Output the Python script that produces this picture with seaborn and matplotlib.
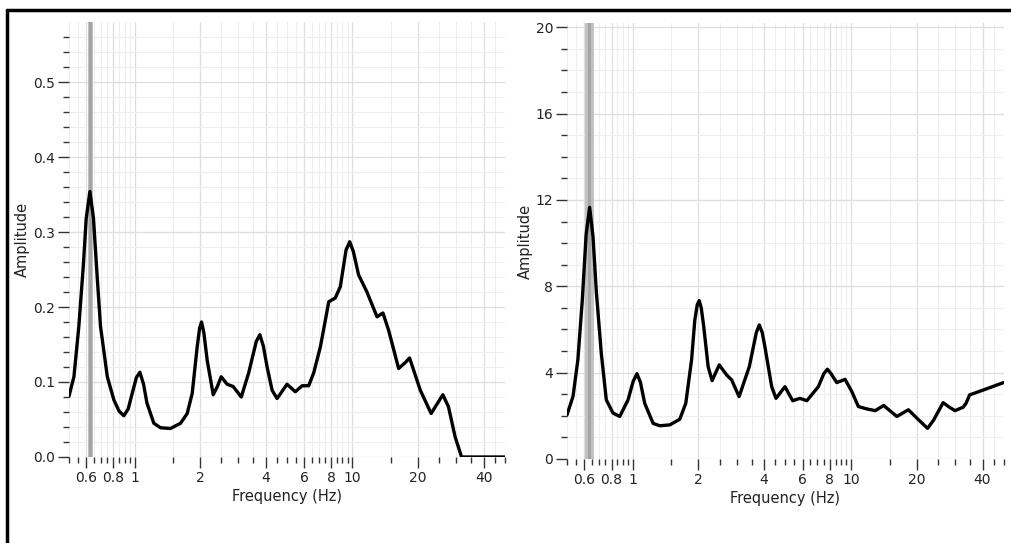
import numpy as np
import pandas as pd
import matplotlib
matplotlib.use('Agg')
import matplotlib.pyplot as plt
from matplotlib.lines import Line2D
from matplotlib.ticker import FixedLocator, NullFormatter
import seaborn as sns

# left spectrum
freq_left = [0.5, 0.527, 0.555, 0.582, 0.6, 0.624, 0.648, 0.674, 0.698, 0.75, 0.804, 0.85,
             0.893, 0.935, 0.976, 1.02, 1.058, 1.10, 1.14, 1.226, 1.316, 1.462, 1.626, 1.745,
             1.84, 1.939, 1.99, 2.03, 2.08, 2.155, 2.297, 2.40, 2.498, 2.66, 2.835, 3.09,
             3.34, 3.62, 3.76, 3.90, 4.06, 4.28, 4.51, 5.01, 5.47, 5.88, 6.30, 6.64, 7.13,
             7.79, 8.34, 8.80, 9.35, 9.72, 10.1, 10.67, 11.66, 12.97, 13.81, 14.66, 16.3,
             17.5, 18.3, 20.5, 22.98, 26.0, 27.6, 29.6, 31.7, 40.0, 50.0]
amp_left = [0.081, 0.107, 0.174, 0.255, 0.318, 0.354, 0.318, 0.240, 0.174, 0.107, 0.076, 0.061,
            0.055, 0.064, 0.085, 0.106, 0.113, 0.097, 0.072, 0.045, 0.039, 0.038, 0.045, 0.058,
            0.085, 0.147, 0.172, 0.180, 0.166, 0.129, 0.083, 0.094, 0.107, 0.097, 0.094, 0.080,
            0.112, 0.154, 0.163, 0.148, 0.120, 0.089, 0.078, 0.097, 0.087, 0.095, 0.095, 0.112,
            0.147, 0.207, 0.212, 0.227, 0.276, 0.287, 0.274, 0.243, 0.220, 0.187, 0.192, 0.169,
            0.118, 0.126, 0.132, 0.089, 0.058, 0.083, 0.067, 0.027, 0.0, 0.0, 0.0]

# right spectrum
freq_right = [0.5, 0.533, 0.561, 0.588, 0.612, 0.635, 0.658, 0.682, 0.718, 0.757, 0.812, 0.872,
              0.952, 1.005, 1.046, 1.085, 1.135, 1.24, 1.33, 1.478, 1.642, 1.75, 1.86, 1.925,
              1.975, 2.016, 2.06, 2.115, 2.215, 2.31, 2.49, 2.69, 2.84, 3.07, 3.42, 3.68, 3.80,
              3.92, 4.03, 4.33, 4.53, 4.98, 5.40, 5.83, 6.27, 7.08, 7.5, 7.79, 8.1, 8.6, 9.39,
              10.08, 10.8, 11.8, 12.9, 14.1, 16.2, 18.3, 20.4, 22.4, 23.9, 26.4, 27.9, 29.9,
              32.6, 33.6, 34.9, 40.4, 49.9]
amp_right = [2.04, 2.9, 4.6, 7.4, 10.4, 11.66, 10.3, 7.7, 4.9, 2.74, 2.13, 1.97,
             2.74, 3.6, 3.95, 3.55, 2.58, 1.65, 1.54, 1.58, 1.84, 2.58, 4.59, 6.44,
             7.15, 7.34, 7.0, 6.13, 4.28, 3.63, 4.36, 3.9, 3.66, 2.89, 4.28, 5.85, 6.21,
             5.85, 5.2, 3.35, 2.81, 3.35, 2.70, 2.81, 2.70, 3.35, 3.95, 4.16, 3.95, 3.54, 3.69,
             3.12, 2.43, 2.32, 2.24, 2.48, 1.97, 2.28, 1.81, 1.42, 1.81, 2.61, 2.43, 2.24,
             2.40, 2.58, 2.97, 3.2, 3.54]

xtick_vals = [0.6, 0.8, 1, 2, 4, 6, 8, 10, 20, 40]
xtick_labels = ['0.6', '0.8', '1', '2', '4', '6', '8', '10', '20', '40']

sns.set_theme(style='white')
plt.rcParams['font.family'] = ['DejaVu Sans']

fig = plt.figure(figsize=(10.11, 5.43), dpi=100)
ax1 = fig.add_axes([0.0682, 0.1584, 0.431, 0.801])
ax2 = fig.add_axes([0.5608, 0.1547, 0.432, 0.803])

minor_x = [v for v in np.concatenate([np.arange(0.5, 1.0, 0.05), np.arange(1.0, 10.0, 0.5),
                                      np.arange(10, 51, 5)])
           if not any(abs(v - m) < 1e-6 for m in xtick_vals)]


def style_axis(ax, df, band, ymax, ymajor, yminor, ylabels):
    ax.axvspan(band[0], band[1], color='#c2c2c2', zorder=1, lw=0)
    ax.axvline((band[0] * band[1]) ** 0.5, color='#a4a4a4', lw=2.2, zorder=1)
    sns.lineplot(data=df, x='freq', y='amp', ax=ax, color='black', lw=2.4, zorder=3,
                 solid_joinstyle='round', solid_capstyle='round')
    ax.set_xscale('log')
    ax.set_xlim(0.5, 50)
    ax.set_ylim(0, ymax)
    ax.xaxis.set_major_locator(FixedLocator(xtick_vals))
    ax.set_xticklabels(xtick_labels)
    ax.xaxis.set_minor_locator(FixedLocator(minor_x))
    ax.xaxis.set_minor_formatter(NullFormatter())
    ax.set_yticks(ymajor)
    ax.set_yticklabels(ylabels)
    ax.yaxis.set_minor_locator(FixedLocator(yminor))
    ax.grid(True, which='major', color='#dedede', lw=0.9, zorder=0)
    ax.grid(True, which='minor', color='#eeeeee', lw=0.8, zorder=0)
    ax.set_axisbelow(True)
    for s in ax.spines.values():
        s.set_visible(False)
    ax.tick_params(axis='both', which='major', direction='out', length=8, width=1,
                   color='#333333', labelsize=10, labelcolor='#222222', pad=2,
                   bottom=True, left=True)
    ax.tick_params(axis='both', which='minor', direction='out', length=4.5, width=1,
                   color='#333333', bottom=True, left=True)
    ax.set_xlabel('Frequency (Hz)', fontsize=10.5, color='#222222', labelpad=3)
    ax.set_ylabel('Amplitude', fontsize=10.5, color='#222222', labelpad=2)


df_left = pd.DataFrame({'freq': freq_left, 'amp': amp_left})
df_right = pd.DataFrame({'freq': freq_right, 'amp': amp_right})

style_axis(ax1, df_left, (0.609, 0.642), 0.58,
           [0.0, 0.1, 0.2, 0.3, 0.4, 0.5], np.arange(0, 0.58, 0.02),
           ['0.0', '0.1', '0.2', '0.3', '0.4', '0.5'])
style_axis(ax2, df_right, (0.603, 0.662), 20.2,
           [0, 4, 8, 12, 16, 20], np.arange(0, 20.1, 1),
           ['0', '4', '8', '12', '16', '20'])

# outer black frame (top and left edges)
fig.add_artist(Line2D([7 / 1011, 1.0], [1 - 10 / 543, 1 - 10 / 543], color='black', lw=2.5,
                      transform=fig.transFigure))
fig.add_artist(Line2D([7 / 1011, 7 / 1011], [0.0, 1 - 10 / 543], color='black', lw=2.5,
                      transform=fig.transFigure))

fig.savefig('out.png', dpi=100)
